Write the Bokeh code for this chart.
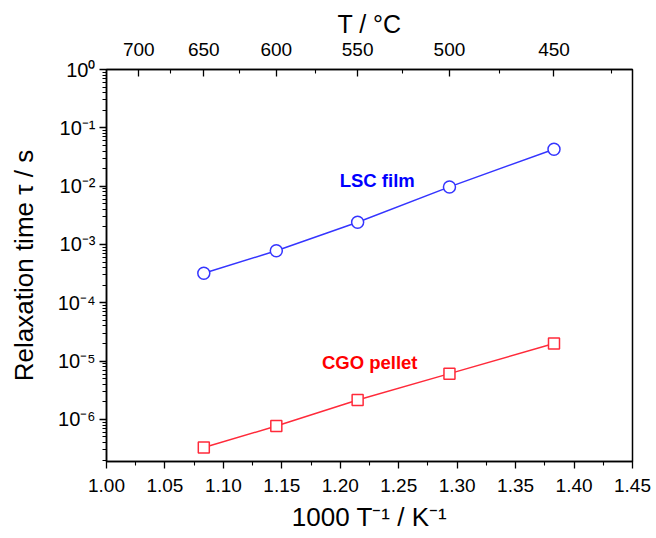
from bokeh.plotting import figure
from bokeh.models import (Range1d, LinearAxis, FixedTicker,
                          CustomJSTickFormatter, PrintfTickFormatter, Label, LogTicker)
from bokeh.embed import file_html
from bokeh.resources import INLINE

# ---- data ----
temps_c = [650, 600, 550, 500, 450]                      # measurement temperatures (°C)
lsc_tau = [3.2e-4, 7.8e-4, 2.4e-3, 9.7e-3, 4.3e-2]        # LSC film relaxation time (s)
cgo_tau = [3.3e-7, 7.7e-7, 2.15e-6, 6.1e-6, 2.0e-5]       # CGO pellet relaxation time (s)
top_major_c = [700, 650, 600, 550, 500, 450]             # top axis labelled ticks (°C)
top_minor_c = [675, 625, 575, 525, 475, 425]             # top axis minor ticks (°C)
x_major = [1.00, 1.05, 1.10, 1.15, 1.20, 1.25, 1.30, 1.35, 1.40, 1.45]
x_minor = [1.025, 1.075, 1.125, 1.175, 1.225, 1.275, 1.325, 1.375, 1.425]

lsc_label = ("LSC film", 1.2316, 1.25e-2)
cgo_label = ("CGO pellet", 1.2252, 9.5e-6)

FONT = "Liberation Sans"
BLUE_LINE = "#3535FF"
RED_LINE = "#FF2A3A"

inv_t = [1000.0 / (t + 273.15) for t in temps_c]

p = figure(width=656, height=538, y_axis_type="log",
           x_range=Range1d(1.0, 1.45), y_range=Range1d(1.9e-7, 1.0),
           toolbar_location=None, output_backend="svg",
           min_border_left=106, min_border_right=24,
           min_border_top=69, min_border_bottom=77)

p.grid.visible = False
p.outline_line_color = "black"
p.outline_line_width = 1.5
p.background_fill_color = "white"
p.border_fill_color = "white"


def style(ax, label_size, tick_size):
    ax.axis_label_text_font = FONT
    ax.axis_label_text_font_style = "normal"
    ax.axis_label_text_font_size = label_size
    ax.axis_label_text_color = "black"
    ax.major_label_text_font = FONT
    ax.major_label_text_font_size = tick_size
    ax.major_label_text_color = "black"
    ax.axis_line_color = "black"
    ax.axis_line_width = 1.5
    ax.major_tick_line_color = "black"
    ax.minor_tick_line_color = "black"
    ax.major_tick_line_width = 1.3
    ax.minor_tick_line_width = 1.1


# bottom axis
xa = p.xaxis[0]
xa.ticker = FixedTicker(ticks=x_major, minor_ticks=x_minor)
xa.formatter = PrintfTickFormatter(format="%.2f")
xa.axis_label = "1000 T\u207b\u00b9 / K\u207b\u00b9"
style(xa, "26px", "19px")
xa.axis_label_standoff = 7
xa.major_label_standoff = 10
xa.major_tick_out = 7
xa.major_tick_in = 0
xa.minor_tick_out = 4
xa.minor_tick_in = 0

# left axis
ya = p.yaxis[0]
ya.ticker = LogTicker(num_minor_ticks=10, desired_num_ticks=8)
ya.formatter = CustomJSTickFormatter(code="""
const sup = {'-':'\u207b','0':'\u2070','1':'\u00b9','2':'\u00b2','3':'\u00b3','4':'\u2074',
             '5':'\u2075','6':'\u2076','7':'\u2077','8':'\u2078','9':'\u2079'};
const e = Math.round(Math.log10(tick));
return '10' + String(e).split('').map(c => sup[c]).join('');
""")
ya.axis_label = "Relaxation time \u03c4 / s"
style(ya, "26px", "20px")
ya.axis_label_standoff = 16
ya.major_label_standoff = 4
ya.major_tick_out = 7
ya.major_tick_in = 0
ya.minor_tick_out = 4
ya.minor_tick_in = 0

# top axis in °C
top_major = [1000.0 / (t + 273.15) for t in top_major_c]
top_minor = [1000.0 / (t + 273.15) for t in top_minor_c]
ta = LinearAxis(ticker=FixedTicker(ticks=top_major, minor_ticks=top_minor),
                formatter=CustomJSTickFormatter(code="return (Math.round(1000/tick - 273.15)).toFixed(0);"),
                axis_label="T / \u00b0C")
style(ta, "25px", "19px")
ta.axis_label_standoff = 2
ta.major_label_standoff = 14
ta.major_tick_in = 7
ta.major_tick_out = 0
ta.minor_tick_in = 4
ta.minor_tick_out = 0
p.add_layout(ta, "above")

# series
p.line(inv_t, lsc_tau, line_color=BLUE_LINE, line_width=1.5)
p.scatter(inv_t, lsc_tau, marker="circle", size=12, fill_color="white",
          line_color=BLUE_LINE, line_width=1.5)
p.line(inv_t, cgo_tau, line_color=RED_LINE, line_width=1.5)
p.scatter(inv_t, cgo_tau, marker="square", size=11, fill_color="white",
          line_color=RED_LINE, line_width=1.5)

for (txt, lx, ly), col in ((lsc_label, "#0000FF"), (cgo_label, "#FF0000")):
    p.add_layout(Label(x=lx, y=ly, text=txt, text_align="center", text_baseline="middle",
                       text_font=FONT, text_font_style="bold", text_font_size="18.5px",
                       text_color=col))

open("out.html", "w").write(file_html(p, INLINE))
